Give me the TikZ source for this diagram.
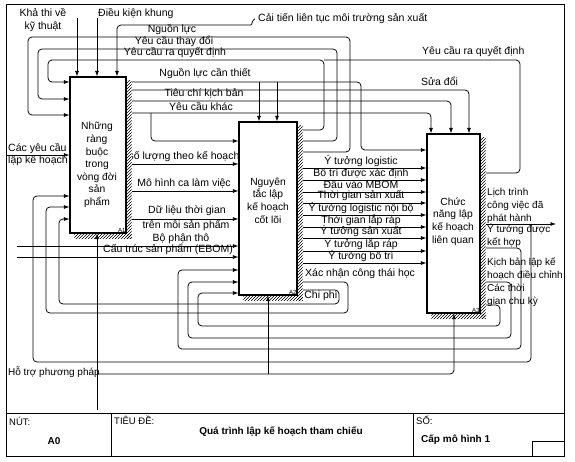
\documentclass[tikz,border=0pt]{standalone}
\usepackage{fontspec}
\setmainfont{Liberation Sans}
\usetikzlibrary{arrows.meta,patterns,calc}
\tikzset{
  lbl/.style={font=\fontsize{10.5}{12.5}\selectfont, inner sep=0pt, yshift=1.2pt},
  rlbl/.style={font=\fontsize{10}{13}\selectfont, inner sep=0pt, anchor=west, align=left},
  btxt/.style={font=\fontsize{10.3}{12.6}\selectfont, inner sep=0pt, align=center},
  tbl/.style={font=\fontsize{9.5}{11}\selectfont, inner sep=0pt, anchor=west},
  tblb/.style={font=\bfseries\fontsize{10}{11}\selectfont, inner sep=0pt},
  box/.style={draw, line width=1.2pt, fill=white, inner sep=0pt},
  wire/.style={draw, line width=0.75pt, rounded corners=4pt},
  flow/.style={wire, -{Latex[length=5.5pt,width=4pt]}},
  hatch/.style={pattern=north east lines, pattern color=black},
  boxno/.style={font=\fontsize{6}{6}\selectfont, inner sep=1pt, anchor=south east},
}
\begin{document}
\begin{tikzpicture}[x=1pt,y=-1pt]
\useasboundingbox (0,0) rectangle (575,462);
% frame and title table
\draw[line width=0.8pt] (6,4) rectangle (564,456);
\draw[line width=0.8pt] (6,413) -- (564,413);
\draw[line width=0.8pt] (111,413) -- (111,456);
\draw[line width=0.8pt] (413,413) -- (413,456);
\draw[line width=0.6pt] (532,441) rectangle (564,456);
\node[tbl] (tnut) at (9,421) {NÚT:};
\node[tblb] (tnode) at (54,441) {A0};
\node[tbl] (ttd) at (114,420) {TIÊU ĐỀ:};
\node[tblb] (ttitle) at (281,432) {Quá trình lập kế hoạch tham chiếu};
\node[tbl] (tso) at (416,420) {SỐ:};
\node[tblb, anchor=west] (tnum) at (421,440) {Cấp mô hình 1};

% boxes
\node[box, minimum width=56pt, minimum height=156pt] (A1) at (98,155) {};
\node[box, minimum width=58pt, minimum height=173pt] (A2) at (268,208.5) {};
\node[box, minimum width=53pt, minimum height=179pt] (A3) at (453.5,223.5) {};

% labels
\node[lbl, align=center] (Lkt) at (43,21.5) {Khả thi về\\kỹ thuật};
\node[lbl, anchor=west] (Ldk) at (98,15) {Điều kiện khung};
\node[lbl, anchor=west] (Lct) at (258,20) {Cải tiến liên tục môi trường sản xuất};
\node[lbl] (Lnl) at (172,31) {Nguồn lực};
\node[lbl] (Ltd) at (174,43) {Yêu cầu thay đổi};
\node[lbl] (Lqd1) at (175,54) {Yêu cầu ra quyết định};
\node[lbl, anchor=west] (Lqd2) at (422,53) {Yêu cầu ra quyết định};
\node[lbl, anchor=west] (Lsd) at (421,83) {Sửa đổi};
\node[lbl] (Lnlct) at (205,75) {Nguồn lực cần thiết};
\node[lbl] (Ltc) at (204,95) {Tiêu chí kịch bản};
\node[lbl] (Lyk) at (201,108) {Yêu cầu khác};
\node[lbl, anchor=west] (Lyc1) at (8,150) {Các yêu cầu};
\node[lbl, anchor=west] (Lyc2) at (8,162) {lập kế hoạch};
\node[lbl] (Lsl) at (184,158) {số lượng theo kế hoạch};
\node[lbl] (Lmh) at (184,185) {Mô hình ca làm việc};
\node[lbl] (Ldl1) at (187,212) {Dữ liệu thời gian};
\node[lbl] (Ldl2) at (186,226) {trên mỗi sản phẩm};
\node[lbl] (Lbp) at (181,239.5) {Bộ phận thô};
\node[lbl] (Lcs) at (168,251) {Cấu trúc sản phẩm (EBOM)};
\node[lbl, anchor=west] (Lxn) at (305,275) {Xác nhận công thái học};
\node[lbl] (Lcp) at (321,297) {Chi phí};
\node[rlbl] (Llt) at (487,205.5) {Lịch trình\\công việc đã\\phát hành};
\node[rlbl] (Lyt) at (487,235.5) {Ý tưởng được\\kết hợp};
\node[rlbl] (Lkb) at (487,269) {Kịch bản lập kế\\hoạch điều chỉnh};
\node[rlbl] (Ltg) at (487,295) {Các thời\\gian chu kỳ};
\node[font=\fontsize{10}{12}\selectfont, inner sep=0pt, anchor=west] (Lht) at (8,372) {Hỗ trợ phương pháp};

% box texts and numbers
\node[btxt] (A1t) at (97,165) {Những\\ràng\\buộc\\trong\\vòng đời\\sản\\phẩm};
\node[btxt] (A2t) at (268,200.5) {Nguyên\\tắc lập\\kế hoạch\\cốt lõi};
\node[btxt] (A3t) at (453,221.5) {Chức\\năng lập\\kế hoạch\\liên quan};
\node[boxno] (A1n) at (A1.south east) {A1};
\node[boxno] (A2n) at (A2.south east) {A2};
\node[boxno] (A3n) at (A3.south east) {A3};

% free ends
\coordinate (kt) at (77,18);
\coordinate (dk) at (97,18);
\coordinate (yc) at (7,155);
\coordinate (bp) at (17,246);
\coordinate (cs) at (17,257);
\coordinate (m1) at (97,410);
\coordinate (ht) at (98,374);
\coordinate (out) at (556,224);

% controls of A1
\draw[flow] (kt) -- (kt |- A1.north);
\draw[flow] (dk) -- (dk |- A1.north);
\draw[flow] ([xshift=-3pt]Lct.west) .. controls (252,20) and (252,25) .. (247,25) -- (117,25) -- (117,0 |- A1.north);

% feedback loops over the top into A1
\draw[flow] (A2.east |- 0,152) -- (350,152) -- (350,37) -- (28,37) -- (28,115) -- (A1.west |- 0,115);
\draw[flow] (A2.east |- 0,141) -- (337,141) -- (337,49) -- (38,49) -- (38,99) -- (A1.west |- 0,99);
\draw[flow] (A2.east |- 0,130) -- (324,130) -- (324,60) -- (48,60) -- (48,82) -- (A1.west |- 0,82);
\draw[wire] (A3.east |- 0,173) -- (520,173) -- (520,60) -- (324,60);

% inputs from outside
\draw[flow] (yc) -- (yc -| A1.west);
\draw[flow] (bp) -- (bp -| A2.west);
\draw[flow] (cs) -- (cs -| A2.west);

% outputs of A1
\draw[flow] (A1.east |- 0,82) -- (361,82) -- (361,150) -- (A3.west |- 0,150);
\draw[flow] (259,82) -- (259,0 |- A2.north);
\draw[flow] (277,82) -- (277,0 |- A2.north);
\draw[flow] (A1.east |- 0,90) -- (469,90) -- (469,0 |- A3.north);
\draw[flow] (A1.east |- 0,101) -- (451,101) -- (451,0 |- A3.north);
\draw[flow] (A1.east |- 0,113) -- (431,113) -- (431,0 |- A3.north);
\draw[flow] (151,113) -- (151,141) -- (A2.west |- 0,141);
\draw[flow] (A1.east |- 0,164) -- (A2.west |- 0,164);
\draw[flow] (A1.east |- 0,191) -- (A2.west |- 0,191);
\draw[flow] (A1.east |- 0,219) -- (A2.west |- 0,219);

% outputs of A2 to A3
\foreach \y/\t/\n in {168/{Ý tưởng logistic}/1, 180/{Bố trí được xác định}/2, 192/{Đầu vào MBOM}/3, 203/{Thời gian sản xuất}/4, 215/{Ý tưởng logistic nội bộ}/5, 227/{Thời gian lắp ráp}/6, 238/{Ý tưởng sản xuất}/7, 251/{Ý tưởng lắp ráp}/8, 263/{Ý tưởng bố trí}/9} {
  \draw[flow] (A2.east |- 0,\y) -- (A3.west |- 0,\y);
  \node[lbl] (o\n) at (361,\y-6) {\t};
}

% feedback loops of A2 into A1
\draw[flow] (A2.east |- 0,282) -- (348,282) -- (348,313) -- (46,313) -- (46,207) -- (A1.west |- 0,207);
\draw[flow] (A2.east |- 0,290) -- (339,290) -- (339,304) -- (59,304) -- (59,219) -- (A1.west |- 0,219);

% outputs of A3
\draw[flow] (A3.east |- 0,224) -- (out);
\draw[flow] (531,224) -- (531,362) -- (33,362) -- (33,196) -- (A1.west |- 0,196);
\draw[flow] (A3.east |- 0,248) -- (521,248) -- (521,349) -- (178,349) -- (178,270) -- (A2.west |- 0,270);
\draw[flow] (A3.east |- 0,282) -- (511,282) -- (511,338) -- (188,338) -- (188,282) -- (A2.west |- 0,282);
\draw[flow] (A3.east |- 0,305) -- (500,305) -- (500,326) -- (198,326) -- (198,293) -- (A2.west |- 0,293);

% shadows
\foreach \b in {A1,A2,A3} {
  \fill[white] ($(\b.north east)+(0.6,4)$) rectangle ($(\b.south east)+(5,5)$);
  \fill[white] ($(\b.south west)+(5,0.6)$) rectangle ($(\b.south east)+(5,5)$);
  \fill[hatch] ($(\b.north east)+(0.6,4)$) rectangle ($(\b.south east)+(5,5)$);
  \fill[hatch] ($(\b.south west)+(5,0.6)$) rectangle ($(\b.south east)+(5,5)$);
}

% mechanisms
\draw[flow] (m1) -- (m1 |- A1.south);
\draw[flow] (ht) -- (454,374) -- (454,0 |- A3.south);
\draw[flow] (268,374) -- (268,0 |- A2.south);
\end{tikzpicture}
\end{document}
